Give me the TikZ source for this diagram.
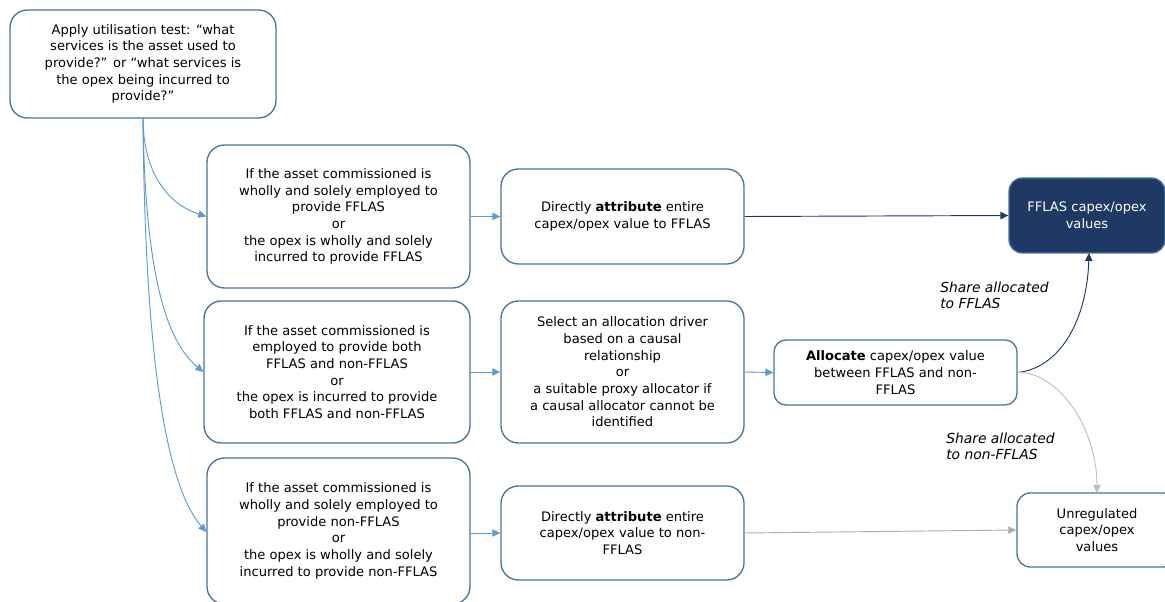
\documentclass[tikz,border=0pt]{standalone}
\usepackage{fontspec}
\setmainfont{DejaVu Sans}
\usetikzlibrary{arrows.meta}
\definecolor{boxline}{HTML}{4A74A0}
\definecolor{lblue}{HTML}{5B9BD5}
\definecolor{navy}{HTML}{203864}
\definecolor{lgray}{HTML}{BFBFBF}
\definecolor{mgray}{HTML}{ADADAD}
\tikzset{
  box/.style={draw=boxline, line width=1pt, rounded corners=13pt, fill=white,
    align=center, inner sep=0pt, font=\fontsize{9.8}{12.5}\selectfont},
  darkbox/.style={box, fill=navy, draw=boxline, text=white},
  lbl/.style={align=left, inner sep=0pt, anchor=north west, font=\fontsize{10.4}{11.7}\selectfont\itshape},
  arr/.style={line width=0.7pt, -{Triangle[length=6pt,width=5.5pt]}},
  bluearr/.style={arr, draw=lblue},
  navyarr/.style={arr, draw=navy},
  grayarr/.style={arr, draw=lgray},
}
\begin{document}
\begin{tikzpicture}[x=0.75pt,y=-0.75pt]
\useasboundingbox (0,0) rectangle (1165,602);
\clip (0,0) rectangle (1165,602);
\node[box, minimum width=266*0.75pt, minimum height=108*0.75pt] (A) at (143,64)
  {Apply utilisation test: “what\\ services is the asset used to\\ provide?” or “what services is\\ the opex being incurred to\\ provide?”};
\node[box, minimum width=263*0.75pt, minimum height=143*0.75pt] (B1) at (338.5,216.5)
  {If the asset commissioned is\\ wholly and solely employed to\\ provide FFLAS\\ or\\ the opex is wholly and solely\\ incurred to provide FFLAS};
\node[box, minimum width=266*0.75pt, minimum height=142*0.75pt] (B2) at (337,372)
  {If the asset commissioned is\\ employed to provide both\\ FFLAS and non-FFLAS\\ or\\ the opex is incurred to provide\\ both FFLAS and non-FFLAS};
\node[box, minimum width=263*0.75pt, minimum height=146*0.75pt] (B3) at (338.5,531)
  {If the asset commissioned is\\ wholly and solely employed to\\ provide non-FFLAS\\ or\\ the opex is wholly and solely\\ incurred to provide non-FFLAS};
\node[box, minimum width=243*0.75pt, minimum height=95*0.75pt] (C1) at (622.5,216.5)
  {Directly \textbf{attribute} entire\\ capex/opex value to FFLAS};
\node[box, minimum width=243*0.75pt, minimum height=142*0.75pt] (C2) at (622.5,372)
  {Select an allocation driver\\ based on a causal\\ relationship\\ or\\ a suitable proxy allocator if\\ a causal allocator cannot be\\ identified};
\node[box, minimum width=243*0.75pt, minimum height=94*0.75pt] (C3) at (622.5,533)
  {Directly \textbf{attribute} entire\\ capex/opex value to non-\\ FFLAS};
\node[box, rounded corners=9pt, minimum width=243*0.75pt, minimum height=65*0.75pt] (D) at (895.5,372.5)
  {\textbf{Allocate} capex/opex value\\ between FFLAS and non-\\ FFLAS};
\node[darkbox, rounded corners=10pt, minimum width=156*0.75pt, minimum height=75*0.75pt] (E) at (1087,215.5)
  {FFLAS capex/opex\\ values};
\node[box, rounded corners=10pt, minimum width=160*0.75pt, minimum height=74*0.75pt] (F) at (1097,530)
  {Unregulated\\ capex/opex\\ values};

\node[lbl] (L1) at (940,282) {Share allocated\\ to FFLAS};
\node[lbl] (L2) at (946,433) {Share allocated\\ to non-FFLAS};

\coordinate (As) at (143,118);
\coordinate (Ein) at (1089,253);
\coordinate (Fin) at (1097,493);
\draw[bluearr] (As) .. controls (143,175) and (170,205) .. (B1.west);
\draw[bluearr] (As) .. controls (145,270) and (165,340) .. (B2.west);
\draw[bluearr] (As) .. controls (145,380) and (170,490) .. (B3.west |- 0,532);
\draw[bluearr] (B1.east) -- (C1.west);
\draw[bluearr] (B2.east) -- (C2.west);
\draw[bluearr] (B3.east |- 0,533) -- (C3.west |- 0,533);
\draw[bluearr] (C2.east) -- (D.west);
\draw[navyarr] (C1.east) -- (E.west);
\draw[arr, draw=mgray] (C3.east) -- (F.west);
\draw[navyarr] (D.east) .. controls (1060,368) and (1087,320) .. (Ein);
\draw[grayarr] (D.east) .. controls (1060,372) and (1097,430) .. (Fin);
\end{tikzpicture}
\end{document}
